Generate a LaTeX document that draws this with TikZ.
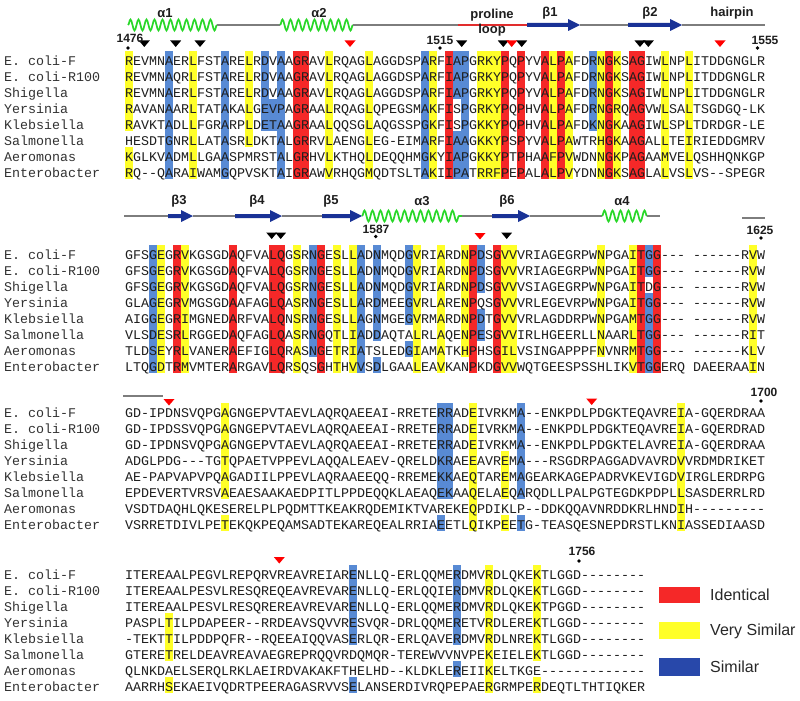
\documentclass[tikz,border=0pt]{standalone}
\usepackage{fontspec}
\usetikzlibrary{decorations.pathmorphing}
\setmainfont{Liberation Sans}
\setsansfont{Liberation Sans}
\setmonofont{Liberation Mono}
\definecolor{hred}{RGB}{245,40,40}
\definecolor{hyel}{RGB}{255,255,40}
\definecolor{hblu}{RGB}{88,138,212}
\definecolor{lblu}{RGB}{40,72,170}
\definecolor{helixc}{RGB}{40,215,40}
\definecolor{strandc}{RGB}{25,50,150}
\definecolor{coilc}{RGB}{125,125,125}
\definecolor{loopc}{RGB}{225,45,45}
\definecolor{txt}{RGB}{30,30,30}
\newcommand\seqf{\ttfamily\fontsize{13.33}{16}\selectfont\frenchspacing}
\newcommand\gp{\hbox to 8pt{\hfil}}
\newcommand\hl[5]{\fill[#5] ({125+8*(#2-1)},{#1+16*(#3-1)-10}) rectangle ({125+8*#2},{#1+16*(#4-1)+6});}
\newcommand\coilseg[3]{\draw[coilc,line width=1.4pt] (#1,#3) -- (#2,#3);}
\newcommand\helixseg[3]{\draw[helixc,line width=1.7pt,decorate,decoration={snake,segment length=8pt,amplitude=5.5pt}] (#1,#3) -- (#2,#3);}
\newcommand\strandseg[3]{\fill[strandc] (#1,{#3-2}) -- ({#2-12},{#3-2}) -- ({#2-12},{#3-6}) -- (#2,#3) -- ({#2-12},{#3+6}) -- ({#2-12},{#3+2}) -- (#1,{#3+2}) -- cycle;}
\newcommand\tri[3]{\fill[#3] ({#1-5.5},#2) -- ({#1+5.5},#2) -- (#1,{#2+6.5}) -- cycle;}
\tikzset{
  seqtext/.style={anchor=base west,inner sep=0pt,font=\seqf,text=txt},
  labtext/.style={anchor=base west,inner sep=0pt,font=\seqf,text={rgb,255:red,50;green,50;blue,50}},
  numtext/.style={inner sep=0pt,font=\bfseries\fontsize{12}{12}\selectfont,text=txt},
  sstext/.style={inner sep=0pt,font=\bfseries\fontsize{13}{13}\selectfont,text=txt},
  legtext/.style={anchor=west,inner sep=0pt,font=\fontsize{16}{16}\selectfont,text={rgb,255:red,40;green,40;blue,40}}
}
\begin{document}
\begin{tikzpicture}[x=1pt,y=-1pt]
\useasboundingbox (0,0) rectangle (800,701);
\fill[white] (0,0) rectangle (800,701);

% ---------- highlights ----------
% block 1
\foreach \c/\a/\b in {1/1/5,1/7/8,9/1/8,16/1/6,26/1/8,31/1/8,39/1/8,45/1/8,46/1/8,47/1/8,54/1/8,56/1/8,60/1/8,62/1/8,68/1/8,71/1/8} {\hl{61}{\c}{\a}{\b}{hyel}}
\foreach \c/\a/\b in {6/1/8,13/1/8,18/1/5,19/4/5,20/1/8,38/1/8,42/1/3,42/6/8,43/1/8,59/1/5} {\hl{61}{\c}{\a}{\b}{hblu}}
\foreach \c/\a/\b in {22/1/8,23/1/8,41/1/8,48/1/8,50/1/8,53/1/8,55/1/8,61/1/8,64/1/8,65/1/8} {\hl{61}{\c}{\a}{\b}{hred}}
% block 2
\foreach \c/\a/\b in {5/1/8,8/1/8,22/1/8,27/1/8,29/1/8,37/1/8,40/1/8,43/1/7,48/1/8,49/1/8,60/1/7,64/1/8,79/1/8} {\hl{255}{\c}{\a}{\b}{hyel}}
\foreach \c/\a/\b in {4/1/8,24/1/7,30/1/8,32/1/6,32/8/8,36/1/5,36/7/7,45/1/3,45/5/6,66/1/2,66/4/8} {\hl{255}{\c}{\a}{\b}{hblu}}
\foreach \c/\a/\b in {7/1/8,14/1/8,19/1/8,20/1/8,25/1/8,44/1/8,47/1/8,65/1/8,67/1/8} {\hl{255}{\c}{\a}{\b}{hred}}
% block 3
\foreach \c/\a/\b in {13/1/6,13/8/8,44/1/8,48/4/6,48/8/8,70/1/8} {\hl{413}{\c}{\a}{\b}{hyel}}
\foreach \c/\a/\b in {40/1/6,40/8/8,41/1/6,50/1/6,50/8/8} {\hl{413}{\c}{\a}{\b}{hblu}}
% block 4
\foreach \c/\a/\b in {6/4/6,6/8/8,46/1/8,52/1/6,52/8/8} {\hl{575}{\c}{\a}{\b}{hyel}}
\foreach \c/\a/\b in {29/1/5,29/8/8,42/1/5,42/7/7} {\hl{575}{\c}{\a}{\b}{hblu}}

% ---------- species labels ----------
\foreach \by/\bk in {61/1,255/2,413/3,575/4} {
  \foreach \n [count=\i] in {{E.\ coli-F},{E.\ coli-R100},Shigella,Yersinia,Klebsiella,Salmonella,Aeromonas,Enterobacter} {
    \node[labtext] (lab\bk\i) at (4,{\by+16*(\i-1)+4.3}) {\n};
  }
}

% ---------- sequences ----------
\node[seqtext] (s11) at (125,65.3) {REVMNAERLFSTARELRDVAAGRAVLRQAGLAGGDSPARFIAPGRKYPQPYVALPAFDRNGKSAGIWLNPLITDDGNGLR};
\node[seqtext] (s12) at (125,81.3) {REVMNAQRLFSTARELRDVAAGRAVLRQAGLAGGDSPARFIAPGRKYPQPYVALPAFDRNGKSAGIWLNPLITDDGNGLR};
\node[seqtext] (s13) at (125,97.3) {REVMNAERLFSTARELRDVAAGRAVLRQAGLAGGDSPARFIAPGRKYPQPYVALPAFDRNGKSAGIWLNPLITDDGNGLR};
\node[seqtext] (s14) at (125,113.3) {RAVANAARLTATAKALGEVPAGRAALRQAGLQPEGSMAKFISPGRKYPQPHVALPAFDRNGRQAGVWLSALTSGDGQ-LK};
\node[seqtext] (s15) at (125,129.3) {RAVKTADLLFGRARPLDETAAGRAALQQSGLAQGSSPGKFISPGKKYPQPHVALPAFDKNGKAAGIWLSPLTDRDGR-LE};
\node[seqtext] (s16) at (125,145.3) {HESDTGNRLLATASRLDKTALGRRVLAENGLEG-EIMARFIAAGKKYPSPYVALPAWTRHGKAAGALLTEIRIEDDGMRV};
\node[seqtext] (s17) at (125,161.3) {KGLKVADMLLGAASPMRSTALGRHVLKTHQLDEQQHMGKYIAPGKKYPTPHAAFPVWDNNGKPAGAAMVELQSHHQNKGP};
\node[seqtext] (s18) at (125,177.3) {RQ--QARAIWAMGQPVSKTAIGRAWVRHQGMQDTSLTAKIIPATRRFPEPALALPVYDNNGKSAGLALVSLVS--SPEGR};

\node[seqtext] (s21) at (125,259.3) {GFSGEGRVKGSGDAQFVALQGSRNGESLLADNMQDGVRIARDNPDSGVVVRIAGEGRPWNPGAITGG---\gp------RVW};
\node[seqtext] (s22) at (125,275.3) {GFSGEGRVKGSGDAQFVALQGSRNGESLLADNMQDGVRIARDNPDSGVVVRIAGEGRPWNPGAITGG---\gp------RVW};
\node[seqtext] (s23) at (125,291.3) {GFSGEGRVKGSGDAQFVALQGSRNGESLLADNMQDGVRIARDNPDSGVVVSIAGEGRPWNPGAITDG---\gp------RVW};
\node[seqtext] (s24) at (125,307.3) {GLAGEGRVMGSGDAAFAGLQASRNGESLLARDMEEGVRLARENPQSGVVVRLEGEVRPWNPGAITGG---\gp------RVW};
\node[seqtext] (s25) at (125,323.3) {AIGGEGRIMGNEDARFVALQNSRNGESLLAGNMGEGVRMARDNPDTGVVVRLAGDDRPWNPGAMTGG---\gp------RVW};
\node[seqtext] (s26) at (125,339.3) {VLSDESRLRGGEDAQFAGLQASRNGQTLIADDAQTALRLAQENPESGVVIRLHGEERLLNAARLTGG---\gp------RIT};
\node[seqtext] (s27) at (125,355.3) {TLDSEYRLVANERAEFIGLQRASNGETRIATSLEDGIAMATKHPHSGILVSINGAPPPFNVNRMTGG---\gp------KLV};
\node[seqtext] (s28) at (125,371.3) {LTQGDTRMVMTERARGAVLQRSQSGHTHVVSDLGAALEAVKANPKDGVVWQTGEESPSSHLIKVTGGERQ\gp DAEERAAIN};

\node[seqtext] (s31) at (125,417.3) {GD-IPDNSVQPGAGNGEPVTAEVLAQRQAEEAI-RRETERRADEIVRKMA--ENKPDLPDGKTEQAVREIA-GQERDRAA};
\node[seqtext] (s32) at (125,433.3) {GD-IPDSSVQPGAGNGEPVTAEVLAQRQAEEAI-RRETERRADEIVRKMA--ENKPDLPDGKTEQAVREIA-GQERDRAD};
\node[seqtext] (s33) at (125,449.3) {GD-IPDNSVQPGAGNGEPVTAEVLAQRQAEEAI-RRETERRADEIVRKMA--ENKPDLPDGKTELAVREIA-GQERDRAA};
\node[seqtext] (s34) at (125,465.3) {ADGLPDG---TGTQPAETVPPEVLAQQALEAEV-QRELDKRAEEAVREMA---RSGDRPAGGADVAVRDVVRDMDRIKET};
\node[seqtext] (s35) at (125,481.3) {AE-PAPVAPVPQAGADIILPPEVLAQRAAEEQQ-RREMEKKAEQTAREMAGEARKAGEPADRVKEVIGDVIRGLERDRPG};
\node[seqtext] (s36) at (125,497.3) {EPDEVERTVRSVAEAESAAKAEDPITLPPDEQQKLAEAQEKAAQELAEQARQDLLPALPGTEGDKPDPLLSASDERRLRD};
\node[seqtext] (s37) at (125,513.3) {VSDTDAQHLQKESERELPLPQDMTTKEAKRQDEMIKTVAREKEQPDIKLP--DDKQQAVNRDDKRLHNDIH---------};
\node[seqtext] (s38) at (125,529.3) {VSRRETDIVLPETEKQKPEQAMSADTEKAREQEALRRIAEETLQIKPEETG-TEASQESNEPDRSTLKNIASSEDIAASD};

\node[seqtext] (s41) at (125,579.3) {ITEREAALPEGVLREPQRVREAVREIARENLLQ-ERLQQMERDMVRDLQKEKTLGGD--------};
\node[seqtext] (s42) at (125,595.3) {ITEREAALPESVLRESQREQEAVREVARENLLQ-ERLQQIERDMVRDLQKEKTLGGD--------};
\node[seqtext] (s43) at (125,611.3) {ITEREAALPESVLRESQREREAVREVARENLLQ-ERLQQMERDMVRDLQKEKTPGGD--------};
\node[seqtext] (s44) at (125,627.3) {PASPLTILPDAPEER--RRDEAVSQVVRESVQR-DRLQQMERETVRDLEREKTLGGD--------};
\node[seqtext] (s45) at (125,643.3) {-TEKTTILPDDPQFR--RQEEAIQQVASERLQR-ERLQAVERDMVRDLNREKTLGGD--------};
\node[seqtext] (s46) at (125,659.3) {GTERETRELDEAVREAVAEGREPRQQVRDQMQR-TEREWVVNVPEKEIELEKTLGGD--------};
\node[seqtext] (s47) at (125,675.3) {QLNKDAELSERQLRKLAEIRDVAKAKFTHELHD--KLDKLEREIIKELTKGE-------------};
\node[seqtext] (s48) at (125,691.3) {AARRHSEKAEIVQDRTPEERAGASRVVSELANSERDIVRQPEPAERGRMPERDEQTLTHTIQKER};

% ---------- secondary structure, block 1 ----------
\helixseg{128}{217}{25}
\coilseg{217}{280}{25}
\helixseg{280}{353}{25}
\coilseg{353}{458}{25}
\draw[loopc,line width=1.5pt] (458,25) -- (527,25);
\strandseg{527}{580}{25}
\coilseg{580}{628}{25}
\strandseg{628}{682}{25}
\coilseg{682}{765}{25}
\node[sstext] (ta1) at (165,13) {α1};
\node[sstext] (ta2) at (319,13) {α2};
\node[sstext] (tpro) at (492,15) {proline};
\node[sstext] (tloop) at (492,30) {loop};
\node[sstext] (tb1) at (550,13) {β1};
\node[sstext] (tb2) at (650,13) {β2};
\node[sstext] (thp) at (732,13) {hairpin};

% ---------- secondary structure, block 2 ----------
\coilseg{124}{168}{216}
\strandseg{168}{193}{216}
\coilseg{193}{235}{216}
\strandseg{235}{282}{216}
\coilseg{282}{322}{216}
\strandseg{322}{362}{216}
\helixseg{362}{462}{216}
\coilseg{462}{492}{216}
\strandseg{492}{530}{216}
\coilseg{530}{602}{216}
\helixseg{602}{647}{216}
\coilseg{647}{660}{216}
\coilseg{742}{765}{218}
\node[sstext] (tb3) at (179,201) {β3};
\node[sstext] (tb4) at (257,201) {β4};
\node[sstext] (tb5) at (331,201) {β5};
\node[sstext] (ta3) at (422,201) {α3};
\node[sstext] (tb6) at (507,201) {β6};
\node[sstext] (ta4) at (622,201) {α4};

% block 3 line
\coilseg{123}{163}{396}

% ---------- triangles ----------
\foreach \xx in {144.3,175.7,200,461.7,503.3,521.7,640,648.3} {\tri{\xx}{40.5}{black}}
\foreach \xx in {350,511.7,720} {\tri{\xx}{40.5}{red}}
\foreach \xx in {271.7,280.7,506.7} {\tri{\xx}{232.5}{black}}
\tri{480}{233}{red}
\tri{169}{399}{red}
\tri{591.7}{398.5}{red}
\tri{279.3}{557}{red}

% ---------- numbers ----------
\node[numtext] (n1476) at (130,38) {1476};
\fill[black] (128,48) circle (1.8);
\node[numtext] (n1515) at (440,40) {1515};
\fill[black] (440,48) circle (1.8);
\node[numtext] (n1555) at (765,40) {1555};
\fill[black] (757.5,48) circle (1.8);
\node[numtext] (n1587) at (376,229) {1587};
\fill[black] (375.7,236.5) circle (1.8);
\node[numtext] (n1625) at (760,230) {1625};
\fill[black] (761,238) circle (1.8);
\node[numtext] (n1700) at (764,392) {1700};
\fill[black] (761,401) circle (1.8);
\node[numtext] (n1756) at (582,551) {1756};
\fill[black] (579,561) circle (1.8);

% ---------- legend ----------
\fill[hred] (659,587) rectangle (700,603);
\fill[hyel] (659,622) rectangle (700,639);
\fill[lblu] (659,658) rectangle (700,676);
\node[legtext] (lg1) at (710,595) {Identical};
\node[legtext] (lg2) at (710,631) {Very Similar};
\node[legtext] (lg3) at (710,667) {Similar};
\end{tikzpicture}
\end{document}
